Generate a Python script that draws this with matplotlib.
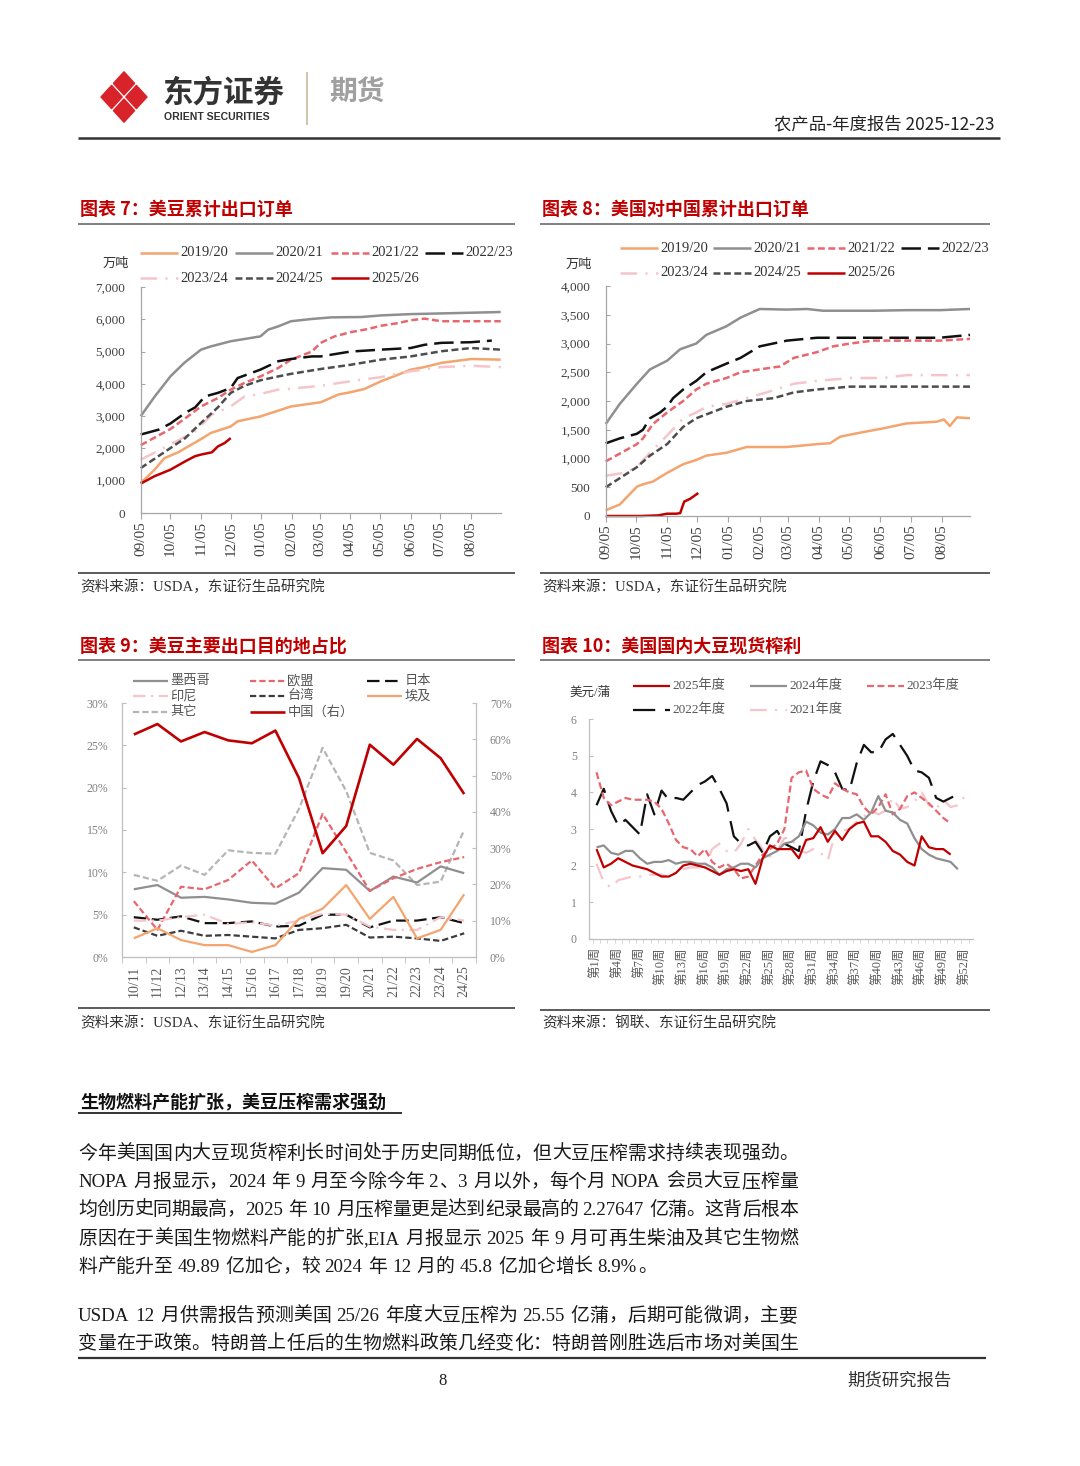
import re
import numpy as np
import matplotlib
matplotlib.use("Agg")
import matplotlib.pyplot as plt
from matplotlib.patches import Polygon

SERIF = ['Liberation Serif', 'Noto Sans CJK SC', 'DejaVu Sans']
SANS = ['Noto Sans CJK SC', 'DejaVu Sans']
plt.rcParams['font.family'] = SERIF
plt.rcParams['lines.scale_dashes'] = False
plt.rcParams['lines.solid_capstyle'] = 'butt'
plt.rcParams['lines.dash_capstyle'] = 'butt'
plt.rcParams['axes.unicode_minus'] = False

# ------------------------------------------------------------------ data
month_labels = ["09/05", "10/05", "11/05", "12/05", "01/05", "02/05",
                "03/05", "04/05", "05/05", "06/05", "07/05", "08/05"]
month_days = [0, 30, 61, 91, 122, 153, 181, 212, 242, 273, 303, 334]

# Chart 7: cumulative US soybean export sales (10k t), x = days since 09/05
c7_1920_d = [0, 14, 24, 38, 48, 61, 71, 91, 98, 121, 152, 182, 200, 212, 226, 243, 260, 273, 287, 304, 334, 364]
c7_1920_v = [930, 1340, 1700, 1880, 2060, 2290, 2480, 2680, 2840, 2990, 3300, 3430, 3670, 3740, 3840, 4080, 4280, 4440, 4520, 4650, 4770, 4750]
c7_2021_d = [0, 14, 30, 44, 61, 71, 91, 105, 121, 129, 139, 152, 173, 193, 223, 243, 273, 364]
c7_2021_v = [3000, 3600, 4230, 4650, 5060, 5160, 5320, 5390, 5470, 5680, 5780, 5940, 6010, 6060, 6070, 6120, 6160, 6225]
c7_2122_d = [0, 30, 48, 61, 78, 91, 105, 121, 139, 152, 173, 182, 196, 212, 230, 243, 260, 273, 287, 304, 364]
c7_2122_v = [2100, 2600, 3000, 3300, 3560, 3820, 4030, 4230, 4490, 4750, 5000, 5270, 5470, 5600, 5700, 5800, 5880, 5970, 6020, 5940, 5940]
c7_2223_d = [0, 18, 30, 45, 55, 65, 78, 91, 98, 121, 139, 152, 173, 182, 212, 243, 273, 287, 304, 334, 355]
c7_2223_v = [2430, 2580, 2770, 3100, 3270, 3610, 3720, 3870, 4180, 4440, 4700, 4770, 4850, 4850, 5000, 5060, 5110, 5210, 5270, 5290, 5340]
c7_2324_d = [0, 30, 55, 72, 91, 105, 121, 139, 152, 182, 212, 243, 273, 304, 334, 364]
c7_2324_v = [1650, 2120, 2530, 3050, 3300, 3610, 3690, 3820, 3850, 3940, 4080, 4210, 4390, 4520, 4560, 4520]
c7_2425_d = [0, 30, 45, 61, 78, 91, 105, 121, 139, 152, 182, 212, 243, 273, 304, 334, 364]
c7_2425_v = [1390, 2010, 2320, 2790, 3270, 3720, 3940, 4110, 4230, 4310, 4460, 4590, 4750, 4850, 5010, 5110, 5060]
c7_2526_d = [0, 14, 30, 45, 55, 61, 72, 78, 85, 91]
c7_2526_v = [910, 1140, 1340, 1600, 1760, 1810, 1880, 2060, 2170, 2320]

# Chart 8: cumulative US export sales to China (10k t)
c8_1920_d = [0, 14, 31, 37, 47, 61, 77, 90, 100, 120, 140, 180, 210, 223, 233, 253, 276, 299, 329, 336, 342, 349, 362]
c8_1920_v = [100, 200, 510, 550, 600, 750, 900, 975, 1050, 1100, 1200, 1200, 1250, 1265, 1380, 1450, 1525, 1610, 1640, 1680, 1565, 1715, 1700]
c8_2021_d = [0, 14, 31, 44, 61, 74, 90, 100, 120, 134, 153, 180, 200, 216, 266, 299, 332, 362]
c8_2021_v = [1600, 1950, 2300, 2550, 2700, 2900, 3000, 3150, 3300, 3450, 3600, 3590, 3600, 3570, 3570, 3580, 3580, 3600]
c8_2122_d = [0, 31, 37, 47, 61, 77, 90, 100, 120, 134, 153, 173, 187, 210, 226, 243, 266, 299, 332, 362]
c8_2122_v = [950, 1250, 1350, 1600, 1800, 2000, 2200, 2300, 2400, 2500, 2550, 2600, 2750, 2850, 2950, 3000, 3050, 3050, 3050, 3080]
c8_2223_d = [0, 14, 31, 37, 44, 54, 61, 67, 77, 90, 100, 120, 134, 153, 180, 210, 243, 299, 332, 362]
c8_2223_v = [1264, 1350, 1430, 1500, 1700, 1800, 1900, 2050, 2200, 2350, 2500, 2650, 2750, 2950, 3050, 3100, 3100, 3100, 3100, 3150]
c8_2324_d = [0, 18, 31, 44, 61, 77, 90, 100, 120, 140, 160, 187, 210, 243, 276, 299, 332, 362]
c8_2324_v = [700, 750, 850, 1100, 1400, 1700, 1800, 1900, 1950, 2050, 2150, 2300, 2350, 2400, 2400, 2450, 2450, 2450]
c8_2425_d = [0, 31, 44, 61, 77, 90, 120, 140, 167, 187, 210, 243, 362]
c8_2425_v = [500, 850, 1050, 1250, 1550, 1700, 1900, 2000, 2050, 2150, 2200, 2250, 2250]
c8_2526_d = [0, 35, 52, 61, 70, 74, 78, 84, 92]
c8_2526_v = [0, 0, 10, 40, 40, 50, 250, 300, 400]

# Chart 9: share of main US soybean export destinations (%)
cats9 = ["10/11", "11/12", "12/13", "13/14", "14/15", "15/16", "16/17", "17/18",
         "18/19", "19/20", "20/21", "21/22", "22/23", "23/24", "24/25"]
mexico = [8.0, 8.5, 7.0, 7.1, 6.8, 6.4, 6.3, 7.6, 10.5, 10.3, 7.8, 9.5, 8.8, 10.7, 9.9]
eu = [6.6, 3.2, 8.3, 8.0, 9.1, 11.4, 8.1, 9.9, 16.9, 12.4, 7.8, 9.3, 10.4, 11.2, 11.8]
japan = [4.7, 4.4, 4.8, 4.0, 4.0, 4.2, 3.6, 3.7, 5.0, 5.0, 3.5, 4.3, 4.3, 4.7, 4.0]
indonesia = [4.3, 4.3, 4.7, 5.0, 3.9, 4.1, 3.7, 4.3, 5.1, 5.0, 3.6, 3.2, 3.2, 4.7, 4.3]
taiwan = [3.5, 2.5, 3.1, 2.5, 2.6, 2.4, 2.2, 3.2, 3.4, 3.8, 2.3, 2.4, 2.2, 1.9, 2.8]
egypt = [2.2, 3.4, 2.0, 1.4, 1.4, 0.6, 1.4, 4.5, 5.7, 8.5, 4.5, 7.1, 2.2, 3.2, 7.4]
other = [9.7, 9.0, 10.8, 9.7, 12.6, 12.3, 12.2, 17.5, 24.7, 19.6, 12.3, 11.4, 8.5, 8.9, 15.0]
china = [61.3, 64.2, 59.4, 62.0, 59.7, 58.9, 62.4, 49.3, 28.6, 36.1, 58.5, 53.0, 60.1, 54.8, 44.9]

# Chart 10: US soybean crush margin (USD/bu) by week
crush_2025 = [2.45, 1.95, 2.05, 2.2, 2.1, 2.0, 1.95, 1.9, 1.8, 1.7, 1.7, 1.8, 2.0, 2.05, 2.0, 1.95, 1.85,
              1.75, 1.85, 1.9, 1.85, 1.9, 1.5, 2.2, 2.55, 2.45, 2.45, 2.45, 2.2, 2.7, 2.75, 3.05, 2.65,
              2.95, 2.7, 3.0, 3.15, 3.2, 2.8, 2.8, 2.65, 2.4, 2.3, 2.1, 2.0, 2.8, 2.5, 2.45, 2.45, 2.3]
crush_2024 = [2.5, 2.55, 2.35, 2.3, 2.4, 2.4, 2.2, 2.05, 2.1, 2.1, 2.15, 2.05, 2.1, 2.1, 2.05, 2.05, 1.95,
              1.75, 1.9, 1.95, 2.05, 2.05, 1.95, 2.2, 2.3, 2.4, 2.6, 2.65, 2.8, 3.2, 3.1, 2.9, 2.85,
              3.0, 3.3, 3.3, 3.4, 3.25, 3.45, 3.9, 3.5, 3.45, 3.25, 3.15, 2.75, 2.45, 2.3, 2.2, 2.15,
              2.1, 1.9]
crush_2023 = [4.55, 3.85, 3.65, 3.75, 3.85, 3.8, 3.8, 3.8, 3.75, 3.55, 3.15, 2.7, 2.5, 2.45, 2.25, 2.45,
              2.1, 1.95, 2.05, 1.9, 1.65, 1.7, 2.0, 2.3, 2.45, 2.6, 3.0, 4.4, 4.55, 4.6, 4.1, 3.95, 3.85,
              4.25, 4.1, 4.0, 3.95, 3.6, 3.4, 3.6, 3.95, 3.4, 3.55, 3.9, 4.0, 3.85, 3.7, 3.5, 3.3, 3.15]
crush_2022 = [3.65, 4.1, 3.5, 3.1, 3.25, 3.05, 2.85, 3.95, 3.4, 4.05, 3.8, 3.85, 3.8, 4.0, 4.2, 4.3,
              4.45, 4.1, 3.7, 2.8, 2.6, 2.55, 2.65, 2.35, 2.8, 2.95, 2.6, 2.5, 2.4, 3.5, 4.3, 4.85, 4.75,
              4.55, 4.1, 4.05, 4.8, 5.3, 5.1, 5.1, 5.45, 5.6, 5.3, 5.0, 4.6, 4.55, 4.4, 3.85, 3.75,
              3.85, 3.95]
crush_2021 = [2.05, 1.55, 1.4, 1.6, 1.65, 1.7, 1.7, 1.75, 1.75, 1.75, 1.7, 1.8, 1.9, 1.95, 1.95, 1.95,
              2.45, 2.6, 2.4, 2.35, 2.6, 3.0, 2.7, 2.45, 2.25, 2.4, 2.75, 2.75, 2.4, 2.35, 2.45, 2.35,
              2.15, 2.85, 2.95, 3.0, 3.2, 3.35, 3.5, 3.4, 3.5, 3.85, 3.55, 3.6, 3.75, 4.0, 3.65, 3.55,
              3.8, 3.6, 3.65, 3.9]
week_label_weeks = [1, 4, 7, 10, 13, 16, 19, 22, 25, 28, 31, 34, 37, 40, 43, 46, 49, 52]

# ------------------------------------------------------------------ figure
W, H = 1080, 1466
fig = plt.figure(figsize=(W / 100, H / 100), dpi=100)
fig.patch.set_facecolor('white')
bg = fig.add_axes([0, 0, 1, 1], zorder=-1)
bg.set_xlim(0, W)
bg.set_ylim(H, 0)
bg.axis('off')


def axes_px(l, t, r, b):
    ax = fig.add_axes([l / W, 1 - b / H, (r - l) / W, (b - t) / H])
    ax.set_facecolor('none')
    return ax


def hline(x0, x1, y, color='#404040', lw=1.2):
    bg.plot([x0, x1], [y, y], color=color, lw=lw, solid_capstyle='butt')


# ---------------- header
RED_LOGO = '#d9232a'
cx, cy, a, b, s = 124, 97, 12.4, 13.6, 0.84
for dx, dy in [(0, -1), (1, 0), (0, 1), (-1, 0)]:
    px, py = cx + dx * a, cy + dy * b
    bg.add_patch(Polygon([(px, py - b * s), (px + a * s, py), (px, py + b * s), (px - a * s, py)],
                         closed=True, facecolor=RED_LOGO, edgecolor=RED_LOGO, lw=1.2, joinstyle='round'))
bg.text(162, 93, "东方证券", fontsize=22, fontweight='bold', color='#333333', family=SANS,
        va='center', ha='left')
bg.text(164, 117, "ORIENT SECURITIES", fontsize=7.6, fontweight='bold', color='#333333',
        family=['Liberation Sans', 'DejaVu Sans'], va='center', ha='left')
bg.plot([307, 307], [72, 125], color='#c9b99b', lw=1.2)
bg.text(329, 93, "期货", fontsize=20, fontweight='bold', color='#a0a0a0', family=SANS,
        va='center', ha='left')
bg.text(994, 124, "农产品-年度报告 2025-12-23", fontsize=12.5, color='#222222', family=SANS,
        va='center', ha='right')
hline(78, 1000, 138, color='#333333', lw=1.8)

# ---------------- titles, rules, sources
TITLE_RED = '#c00000'


def chart_title(x, y, text):
    bg.text(x, y, text, fontsize=13, fontweight='bold', color=TITLE_RED, family=SANS,
            va='center', ha='left')


chart_title(80, 209, "图表 7：美豆累计出口订单")
chart_title(542, 209, "图表 8：美国对中国累计出口订单")
chart_title(80, 646, "图表 9：美豆主要出口目的地占比")
chart_title(542, 646, "图表 10：美国国内大豆现货榨利")
hline(78, 515, 224, color='#808080', lw=1.4)
hline(540, 990, 224, color='#808080', lw=1.4)
hline(78, 515, 660, color='#808080', lw=1.4)
hline(540, 990, 660, color='#808080', lw=1.4)
hline(78, 515, 573)
hline(540, 990, 573)
hline(78, 515, 1008)
hline(540, 990, 1010)
for x, y, t in [(80, 587, "资料来源：USDA，东证衍生品研究院"),
                (542, 587, "资料来源：USDA，东证衍生品研究院"),
                (80, 1023, "资料来源：USDA、东证衍生品研究院"),
                (542, 1023, "资料来源：钢联、东证衍生品研究院")]:
    bg.text(x, y, t, fontsize=10.5, color='#333333', va='center', ha='left', family=SERIF)

# ---------------- styles
ORANGE = '#f4a46e'
GRAY = '#8f8f8f'
PINKRED = '#e8666e'
BLACK = '#111111'
PINK = '#f5c5cb'
DGRAY = '#4d4d4d'
DRED = '#c00000'

ST7 = {
    '2019/20': dict(color=ORANGE, lw=1.8, ls='-'),
    '2020/21': dict(color=GRAY, lw=1.8, ls='-'),
    '2021/22': dict(color=PINKRED, lw=1.8, ls=(0, (5, 2.5))),
    '2022/23': dict(color=BLACK, lw=1.8, ls=(0, (14, 5))),
    '2023/24': dict(color=PINK, lw=1.8, ls=(0, (12, 6, 1.5, 6))),
    '2024/25': dict(color=DGRAY, lw=1.8, ls=(0, (5, 2.5))),
    '2025/26': dict(color=DRED, lw=1.8, ls='-'),
}


def legend_entry(x, y, L, st, label, fs, gap=2.5, color='#333333'):
    bg.plot([x, x + L], [y, y], **st)
    bg.text(x + L + gap, y, label, fontsize=fs, va='center', ha='left', color=color, family=SERIF)


def style_xy(ax, spine='#a6a6a6', labc='#404040', fs=9.5):
    for sname in ['top', 'right']:
        ax.spines[sname].set_visible(False)
    for sname in ['left', 'bottom']:
        ax.spines[sname].set_color(spine)
        ax.spines[sname].set_linewidth(0.9)
    ax.tick_params(axis='both', colors=spine, labelcolor=labc, labelsize=fs)
    ax.tick_params(axis='y', direction='in', length=3, pad=11)
    ax.tick_params(axis='x', direction='out', length=4, pad=2, labelsize=11)


# ---------------- chart 7
ax7 = axes_px(140.7, 287, 500.7, 513)
series7 = [('2019/20', c7_1920_d, c7_1920_v), ('2020/21', c7_2021_d, c7_2021_v),
           ('2021/22', c7_2122_d, c7_2122_v), ('2022/23', c7_2223_d, c7_2223_v),
           ('2023/24', c7_2324_d, c7_2324_v), ('2024/25', c7_2425_d, c7_2425_v),
           ('2025/26', c7_2526_d, c7_2526_v)]
for name, d, v in series7:
    ax7.plot(d, v, **ST7[name], clip_on=False)
ax7.set_xlim(0, 364)
ax7.set_ylim(0, 7000)
ax7.set_yticks(range(0, 7001, 1000))
ax7.set_yticklabels([f"{t:,}" for t in range(0, 7001, 1000)])
ax7.set_xticks(month_days)
ax7.set_xticklabels(month_labels, rotation=90)
style_xy(ax7)
bg.text(116, 263, "万吨", fontsize=9.5, family=SANS, va='center', ha='center', color='#333333')
for i, (name, _, _) in enumerate(series7):
    row, col = divmod(i, 4)
    legend_entry([140, 235, 331, 425][col], [253, 278][row], 38, ST7[name], name, 10.5)

# ---------------- chart 8
ax8 = axes_px(605.7, 286, 970, 516)
series8 = [('2019/20', c8_1920_d, c8_1920_v), ('2020/21', c8_2021_d, c8_2021_v),
           ('2021/22', c8_2122_d, c8_2122_v), ('2022/23', c8_2223_d, c8_2223_v),
           ('2023/24', c8_2324_d, c8_2324_v), ('2024/25', c8_2425_d, c8_2425_v),
           ('2025/26', c8_2526_d, c8_2526_v)]
for name, d, v in series8:
    ax8.plot(d, v, **ST7[name], clip_on=False)
ax8.set_xlim(0, 362)
ax8.set_ylim(0, 4000)
ax8.set_yticks(range(0, 4001, 500))
ax8.set_yticklabels([f"{t:,}" for t in range(0, 4001, 500)])
ax8.set_xticks(month_days)
ax8.set_xticklabels(month_labels, rotation=90)
style_xy(ax8)
bg.text(579, 264, "万吨", fontsize=9.5, family=SANS, va='center', ha='center', color='#333333')
for i, (name, _, _) in enumerate(series8):
    row, col = divmod(i, 4)
    legend_entry([620, 713, 807, 901][col], [248, 273][row], 38, ST7[name], name, 10.5)

# ---------------- chart 9
ax9 = axes_px(122, 703, 476, 957)
x9 = np.arange(len(cats9))
ST9 = {
    '墨西哥': dict(color=GRAY, lw=1.6, ls='-'),
    '欧盟': dict(color=PINKRED, lw=1.6, ls=(0, (4.5, 2.2))),
    '日本': dict(color=BLACK, lw=1.6, ls=(0, (9, 4))),
    '印尼': dict(color=PINK, lw=1.6, ls=(0, (9, 4, 1.5, 4))),
    '台湾': dict(color='#3c3c3c', lw=1.6, ls=(0, (4.5, 2.2))),
    '埃及': dict(color=ORANGE, lw=1.6, ls='-'),
    '其它': dict(color='#b5b5b5', lw=1.6, ls=(0, (4.5, 2.2))),
    '中国（右）': dict(color=DRED, lw=1.9, ls='-'),
}
for name, vals in [('其它', other), ('墨西哥', mexico), ('欧盟', eu), ('日本', japan),
                   ('印尼', indonesia), ('台湾', taiwan), ('埃及', egypt)]:
    ax9.plot(x9, vals, **ST9[name])
ax9.set_xlim(-0.5, len(cats9) - 0.5)
ax9.set_ylim(0, 30)
ax9r = ax9.twinx()
ax9r.plot(x9, china, **ST9['中国（右）'])
ax9r.set_ylim(0, 70)
ax9r.set_facecolor('none')
for sname in ['top', 'right']:
    ax9.spines[sname].set_visible(False)
for sname in ['top', 'left', 'bottom']:
    ax9r.spines[sname].set_visible(False)
for sp in [ax9.spines['left'], ax9.spines['bottom'], ax9r.spines['right']]:
    sp.set_color('#bfbfbf')
    sp.set_linewidth(0.9)
ax9.set_yticks(range(0, 31, 5))
ax9.set_yticklabels([f"{t}%" for t in range(0, 31, 5)])
ax9r.set_yticks(range(0, 71, 10))
ax9r.set_yticklabels([f"{t}%" for t in range(0, 71, 10)])
ax9.set_xticks(x9)
ax9.set_xticklabels(cats9, rotation=90)
ax9.set_xticks(np.arange(-0.5, len(cats9), 1.0), minor=True)
ax9.tick_params(axis='x', which='major', length=0, pad=6, labelsize=10, labelcolor='#595959')
ax9.tick_params(axis='x', which='minor', length=4, direction='out', color='#bfbfbf')
ax9.tick_params(axis='y', direction='in', length=3, pad=10, labelsize=8.5,
                labelcolor='#808080', color='#bfbfbf')
ax9r.tick_params(axis='y', direction='in', length=3, pad=10, labelsize=8.5,
                 labelcolor='#808080', color='#bfbfbf')
leg9 = [('墨西哥', 0, 0), ('欧盟', 1, 0), ('日本', 2, 0),
        ('印尼', 0, 1), ('台湾', 1, 1), ('埃及', 2, 1),
        ('其它', 0, 2), ('中国（右）', 1, 2)]
for name, col, row in leg9:
    legend_entry([133, 250, 367][col], [681, 696, 712][row], 35, ST9[name], name, 9.5,
                 color='#555555')

# ---------------- chart 10
ax10 = axes_px(589.3, 719.3, 973, 938.7)
ST10 = {
    '2025年度': dict(color=DRED, lw=1.6, ls='-'),
    '2024年度': dict(color=GRAY, lw=1.6, ls='-'),
    '2023年度': dict(color=PINKRED, lw=1.6, ls=(0, (5, 2.5))),
    '2022年度': dict(color=BLACK, lw=1.6, ls=(0, (16, 7))),
    '2021年度': dict(color=PINK, lw=1.6, ls=(0, (12, 6, 1.5, 6))),
}
series10 = [('2021年度', crush_2021), ('2022年度', crush_2022), ('2023年度', crush_2023),
            ('2024年度', crush_2024), ('2025年度', crush_2025)]
for name, vals in series10:
    ax10.plot(np.arange(1, len(vals) + 1), vals, **ST10[name])
ax10.set_xlim(0, 53.1)
ax10.set_ylim(0, 6)
ax10.set_yticks(range(0, 7))
ax10.set_xticks(week_label_weeks)
ax10.set_xticklabels([f"第{w}周" for w in week_label_weeks], rotation=90)
ax10.set_xticks(np.arange(0.5, 53.5, 1.0), minor=True)
for sname in ['top', 'right']:
    ax10.spines[sname].set_visible(False)
for sname in ['left', 'bottom']:
    ax10.spines[sname].set_color('#bfbfbf')
    ax10.spines[sname].set_linewidth(0.9)
ax10.tick_params(axis='x', which='major', length=0, pad=6, labelsize=9, labelcolor='#595959')
ax10.tick_params(axis='x', which='minor', length=3, direction='out', color='#cfcfcf')
ax10.tick_params(axis='y', direction='in', length=3, pad=9, labelsize=8.5,
                 labelcolor='#808080', color='#bfbfbf')
bg.text(590, 693, "美元/蒲", fontsize=9, family=SERIF, va='center', ha='center', color='#333333')
leg10 = [('2025年度', 0, 0), ('2024年度', 1, 0), ('2023年度', 2, 0),
         ('2022年度', 0, 1), ('2021年度', 1, 1)]
for name, col, row in leg10:
    legend_entry([633, 750, 867][col], [686, 710][row], 37, ST10[name], name, 9.5,
                 color='#555555')

# ---------------- body text
renderer = fig.canvas.get_renderer()
BODY_FS = 13.6
BODY_PX = BODY_FS * 100 / 72


def token_width(tok):
    if tok == ' ':
        return 0.25 * BODY_PX
    if ord(tok[0]) > 127:
        return BODY_PX
    t = bg.text(0, 0, tok, fontsize=BODY_FS, family=SERIF)
    w = t.get_window_extent(renderer).width
    t.remove()
    return w + 0.06 * BODY_PX


def body_line(text, y, justify, x0=78, x1=798):
    toks = re.findall(r'[\x21-\x7e]+| |[^\x00-\x7f]', text)
    widths = [token_width(t) for t in toks]
    extra = (x1 - x0 - sum(widths)) / (len(toks) - 1) if justify and len(toks) > 1 else 0
    x = x0
    base = y + 0.36 * BODY_PX
    for t, w in zip(toks, widths):
        if t != ' ':
            bg.text(x, base, t, fontsize=BODY_FS, family=SERIF, va='baseline', ha='left',
                    color='#1a1a1a')
        x += w + extra


bg.text(80, 1103, "生物燃料产能扩张，美豆压榨需求强劲", fontsize=13, fontweight='bold',
        family=SANS, va='center', ha='left', color='#111111')
hline(78, 402, 1113, color='#111111', lw=1.2)

body = [
    ("今年美国国内大豆现货榨利长时间处于历史同期低位，但大豆压榨需求持续表现强劲。", 1152, True),
    ("NOPA 月报显示，2024 年 9 月至今除今年 2、3 月以外，每个月 NOPA 会员大豆压榨量", 1180, True),
    ("均创历史同期最高，2025 年 10 月压榨量更是达到纪录最高的 2.27647 亿蒲。这背后根本", 1208, True),
    ("原因在于美国生物燃料产能的扩张,EIA 月报显示 2025 年 9 月可再生柴油及其它生物燃", 1237, True),
    ("料产能升至 49.89 亿加仑，较 2024 年 12 月的 45.8 亿加仑增长 8.9%。", 1265, False),
    ("USDA 12 月供需报告预测美国 25/26 年度大豆压榨为 25.55 亿蒲，后期可能微调，主要", 1314, True),
    ("变量在于政策。特朗普上任后的生物燃料政策几经变化：特朗普刚胜选后市场对美国生", 1342, True),
]
for text, y, j in body:
    body_line(text, y, j)

# ---------------- footer
hline(78, 986, 1358, color='#333333', lw=1.6)
bg.text(443, 1381, "8", fontsize=12, family=SERIF, va='center', ha='center', color='#222222')
bg.text(952, 1381, "期货研究报告", fontsize=12.5, family=SANS, va='center', ha='right',
        color='#333333')

fig.savefig("out.png", dpi=100, facecolor='white')
